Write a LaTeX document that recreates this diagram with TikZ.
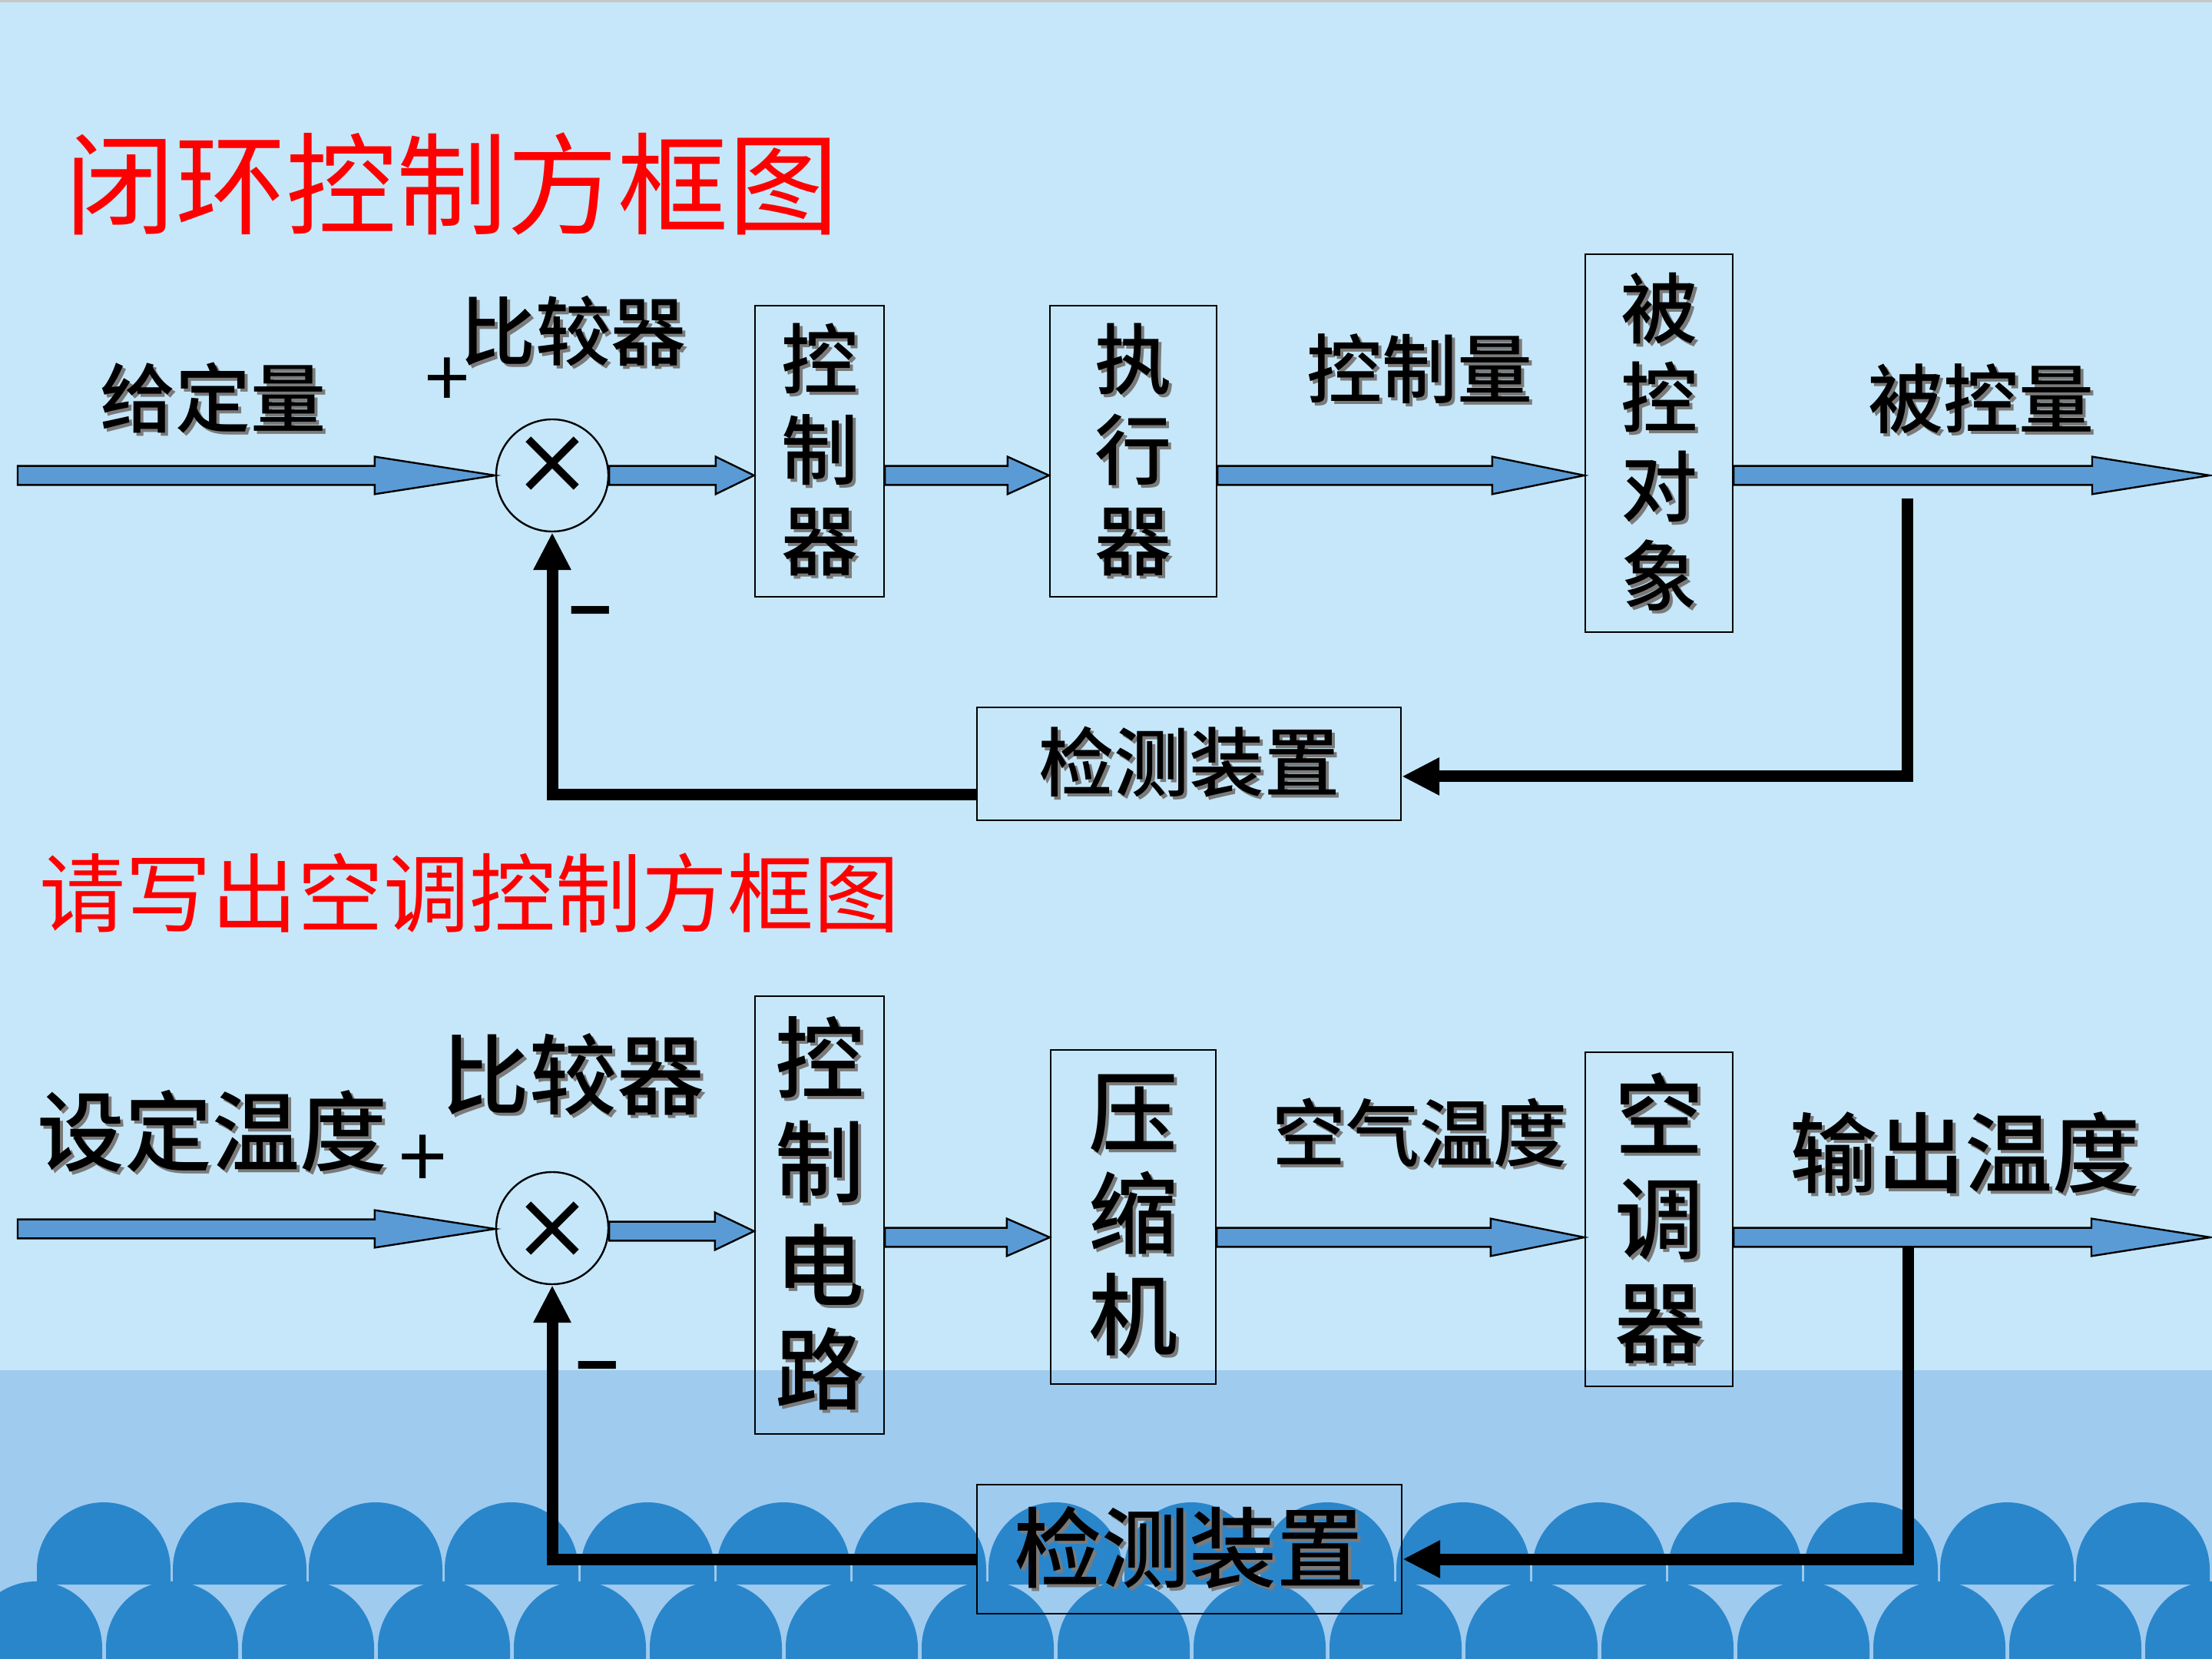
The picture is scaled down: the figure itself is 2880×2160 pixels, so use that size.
\documentclass[tikz,border=0pt]{standalone}
\usepackage{fontspec}
\setmainfont{Noto Sans CJK SC}[BoldFont={Noto Sans CJK SC Medium}]
\newfontfamily\heavyfont{Noto Sans CJK SC Bold}
\usepackage{tikz}
\usetikzlibrary{arrows.meta,calc}

\definecolor{skyblue}{HTML}{C5E7F9}
\definecolor{seablue}{HTML}{9FCBEF}
\definecolor{waveblue}{HTML}{2A86CB}
\definecolor{arrowblue}{HTML}{5B9BD5}
\definecolor{shadowgray}{HTML}{7A7A7A}

% text with a grey drop shadow
\newcommand{\shd}[1]{\makebox[0pt][l]{\kern1pt\raisebox{-1pt}{\color{shadowgray}#1}}#1}
% wide blue arrow: from, to, head length
\newcommand{\blockarrow}[3]{%
  \filldraw[barrow] let \p1=(#1), \p2=(#2) in
    (\x1,\y1+3.1pt) -- (\x2-#3,\y1+3.1pt) -- (\x2-#3,\y1+6.1pt) -- (\x2,\y1)
    -- (\x2-#3,\y1-6.1pt) -- (\x2-#3,\y1-3.1pt) -- (\x1,\y1-3.1pt) -- cycle;}

\begin{document}
\begin{tikzpicture}[x=0.25pt,y=-0.25pt]
  \tikzstyle{blk}=[rectangle,draw=black,line width=0.6pt,inner sep=0pt,align=center,font=\bfseries]
  \tikzstyle{cmp}=[circle,draw=black,line width=0.6pt,minimum size=36.5pt,inner sep=0pt]
  \tikzstyle{lbl}=[inner sep=0pt,font=\bfseries]
  \tikzstyle{ttl}=[inner sep=0pt,text=red]
  \tikzstyle{sign}=[inner sep=0pt]
  \tikzstyle{barrow}=[fill=arrowblue,draw=black,line width=0.6pt]
  \tikzstyle{fb}=[line width=3.75pt,-{Triangle[length=12.25pt,width=11.5pt]}]
  \tikzstyle{xmark}=[line width=2.4pt]

  \useasboundingbox (0,0) rectangle (2880,2160);
  % background
  \fill[skyblue] (0,0) rectangle (2880,2160);
  \fill[gray!45] (0,0) rectangle (2880,3);
  \fill[seablue] (0,1784) rectangle (2880,2160);
  \begin{scope}
    \clip (0,0) rectangle (2880,2160);
    \foreach \i in {0,...,15}
      \fill[waveblue] ({48+177*\i},2063) -- ++(0,-20) arc[start angle=180,end angle=360,radius=87] -- ++(0,20) -- cycle;
    \foreach \i in {0,...,16}
      \fill[waveblue] ({-39+177*\i},2170) -- ++(0,-25) arc[start angle=180,end angle=360,radius=86] -- ++(0,25) -- cycle;
  \end{scope}

  % closed loop
  \node[ttl,font=\fontsize{36}{40}\selectfont] (title1) at (588,240) {闭环控制方框图};
  \node[cmp] (c1) at (719,619) {};
  \node[blk,minimum width=42pt,minimum height=94.75pt,font=\fontsize{25}{29.5}\selectfont\bfseries]
    (ctrl1) at (1067,587.5) {\shd{控}\\\shd{制}\\\shd{器}};
  \node[blk,minimum width=54.25pt,minimum height=94.75pt,font=\fontsize{25}{29.5}\selectfont\bfseries]
    (exec1) at (1475.5,587.5) {\shd{执}\\\shd{行}\\\shd{器}};
  \node[blk,minimum width=48pt,minimum height=123pt,font=\fontsize{25}{29}\selectfont\bfseries]
    (plant1) at (2160,577) {\shd{被}\\\shd{控}\\\shd{对}\\\shd{象}};
  \node[blk,minimum width=138pt,minimum height=36.75pt,font=\fontsize{24.5}{29}\selectfont\bfseries]
    (det1) at (1548,994.5) {\shd{检测装置}};
  \node[lbl,font=\fontsize{24.5}{29}\selectfont\bfseries] (given1) at (277,520) {\shd{给定量}};
  \node[lbl,font=\fontsize{24.5}{29}\selectfont\bfseries] (cmplbl1) at (746,433) {\shd{比较器}};
  \node[lbl,font=\fontsize{24.5}{29}\selectfont\bfseries] (ctrlq1) at (1848,482) {\shd{控制量}};
  \node[lbl,font=\fontsize{24.5}{29}\selectfont\bfseries] (outq1) at (2579,521) {\shd{被控量}};
  \node[sign,font=\fontsize{26}{30}\selectfont] (plus1) at (582,498) {+};
  \node[sign,font=\fontsize{24}{28}\selectfont\heavyfont] (minus1) at (769,810) {−};
  \coordinate (in1) at (23,619);
  \coordinate (out1) at (2877,619);
  \coordinate (tap1) at (2483,649);

  \draw[xmark] ([yshift=4pt]c1.center) +(-7.8pt,-7.8pt) -- +(7.8pt,7.8pt) +(-7.8pt,7.8pt) -- +(7.8pt,-7.8pt);
  \blockarrow{in1}{c1.west}{39.25pt}
  \blockarrow{c1.east}{ctrl1.west}{12.5pt}
  \blockarrow{ctrl1.east |- c1.east}{exec1.west |- c1.east}{13.5pt}
  \blockarrow{exec1.east |- c1.east}{plant1.west |- c1.east}{30pt}
  \blockarrow{plant1.east |- c1.east}{out1}{38.25pt}
  \draw[fb] (tap1) |- ([yshift=-4.1pt]det1.east);
  \draw[fb] ([yshift=-10.1pt]det1.west) -| (c1.south);

  % air conditioner
  \node[ttl,font=\fontsize{28}{32}\selectfont] (title2) at (611,1163) {请写出空调控制方框图};
  \node[cmp] (c2) at (719,1599) {};
  \node[blk,minimum width=42pt,minimum height=142.5pt,font=\fontsize{29}{33.75}\selectfont\bfseries]
    (ctrl2) at (1067,1582) {\shd{控}\\\shd{制}\\\shd{电}\\\shd{路}};
  \node[blk,minimum width=53.75pt,minimum height=108.75pt,font=\fontsize{29}{33}\selectfont\bfseries]
    (comp2) at (1475.5,1584.5) {\shd{压}\\\shd{缩}\\\shd{机}};
  \node[blk,minimum width=48pt,minimum height=108.75pt,font=\fontsize{29}{33.75}\selectfont\bfseries]
    (ac2) at (2160,1587.5) {\shd{空}\\\shd{调}\\\shd{器}};
  \node[blk,minimum width=138.25pt,minimum height=42pt,font=\fontsize{28.5}{33}\selectfont\bfseries]
    (det2) at (1548.5,2017) {\shd{检测装置}};
  \node[lbl,font=\fontsize{28.5}{33}\selectfont\bfseries] (given2) at (277,1475) {\shd{设定温度}};
  \node[lbl,font=\fontsize{28.5}{33}\selectfont\bfseries] (cmplbl2) at (746,1401) {\shd{比较器}};
  \node[lbl,font=\fontsize{24}{28}\selectfont\bfseries] (airt2) at (1848,1477) {\shd{空气温度}};
  \node[lbl,font=\fontsize{28.5}{33}\selectfont\bfseries] (outt2) at (2558,1503) {\shd{输出温度}};
  \node[sign,font=\fontsize{28}{32}\selectfont] (plus2) at (551,1513) {+};
  \node[sign,font=\fontsize{24}{28}\selectfont\heavyfont] (minus2) at (778,1793) {−};
  \coordinate (in2) at (23,1600);
  \coordinate (lv2) at (0,1611);
  \coordinate (out2) at (2878,1611);
  \coordinate (tap2) at (2484,1623);

  \draw[xmark] (c2.center) +(-7.8pt,-7.8pt) -- +(7.8pt,7.8pt) +(-7.8pt,7.8pt) -- +(7.8pt,-7.8pt);
  \blockarrow{in2}{c2.west}{39.25pt}
  \blockarrow{[yshift=-1pt]c2.east}{ctrl2.west}{12.75pt}
  \blockarrow{ctrl2.east |- lv2}{comp2.west |- lv2}{14pt}
  \blockarrow{comp2.east |- lv2}{ac2.west |- lv2}{30.5pt}
  \blockarrow{ac2.east |- lv2}{out2}{38.75pt}
  \draw[fb] (tap2) |- ([yshift=-3.25pt]det2.east);
  \draw[fb] ([yshift=-3.25pt]det2.west) -| (c2.south);
\end{tikzpicture}
\end{document}
